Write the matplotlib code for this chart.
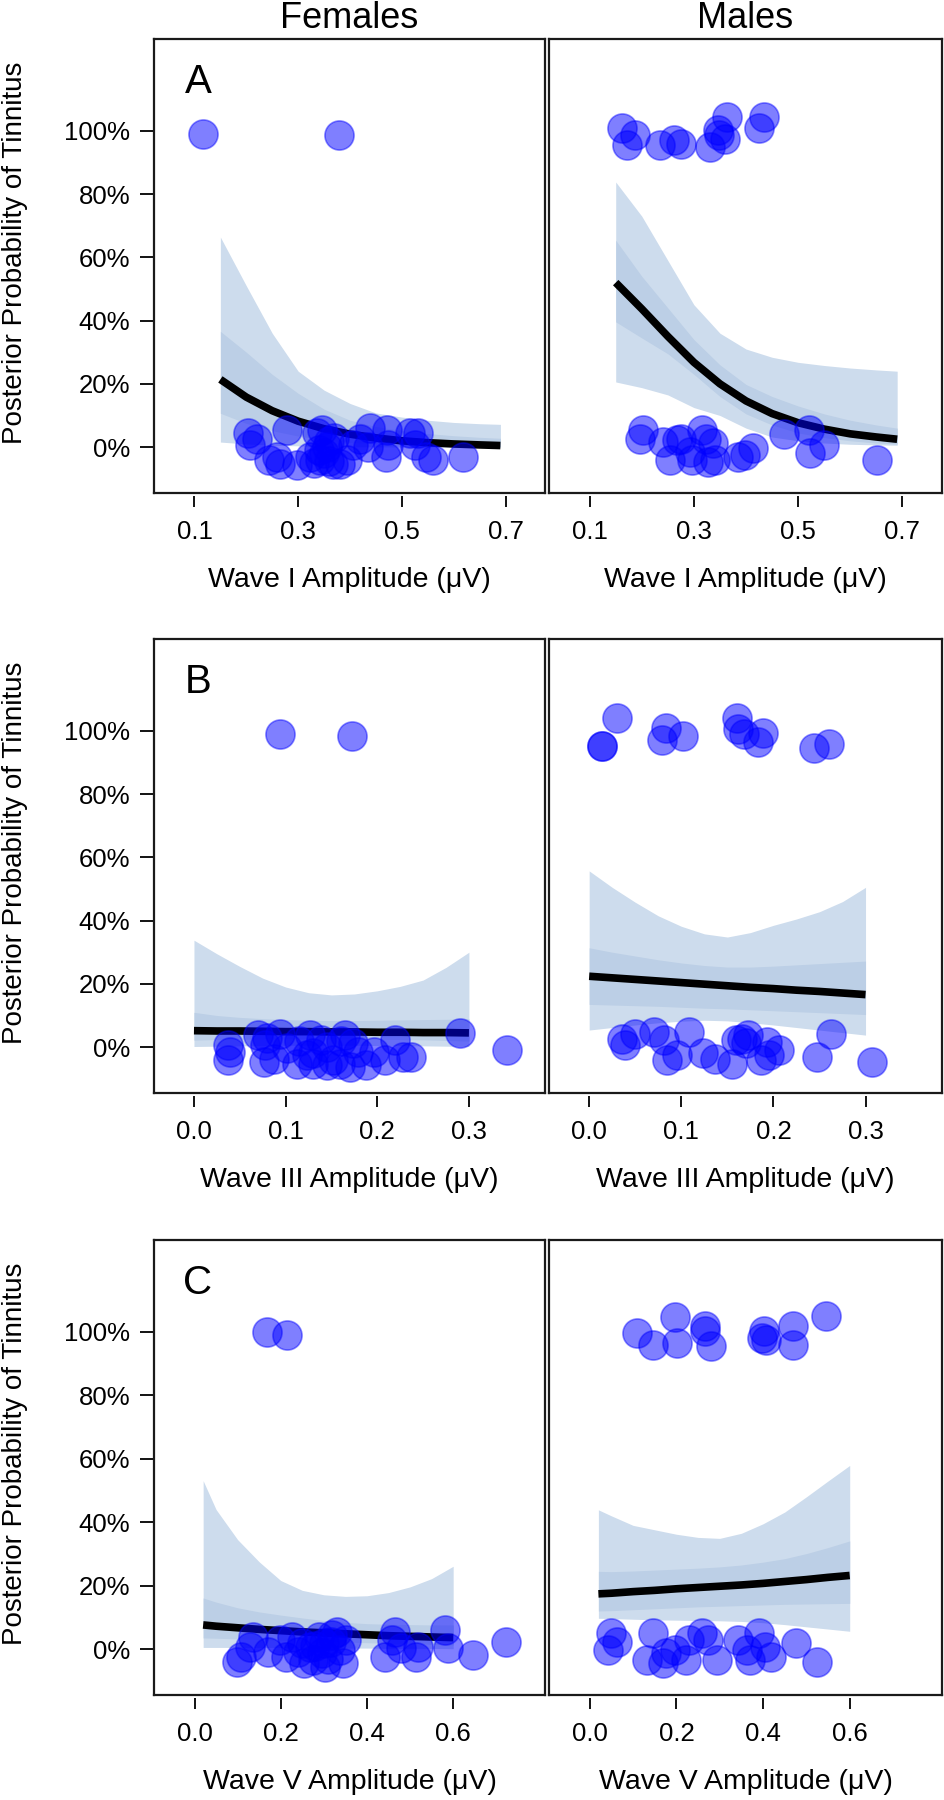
import matplotlib
matplotlib.use("Agg")
import matplotlib.pyplot as plt
import numpy as np

plt.rcParams['font.family'] = ['Liberation Sans', 'DejaVu Sans']

# ---------------- data ----------------
col_titles = ["Females", "Males"]
row_letters = ["A", "B", "C"]
xlabels = ["Wave I Amplitude (\u03bcV)", "Wave III Amplitude (\u03bcV)", "Wave V Amplitude (\u03bcV)"]
xticks_rows = [[0.1, 0.3, 0.5, 0.7], [0.0, 0.1, 0.2, 0.3], [0.0, 0.2, 0.4, 0.6]]
xticklabels_rows = [["0.1", "0.3", "0.5", "0.7"], ["0.0", "0.1", "0.2", "0.3"], ["0.0", "0.2", "0.4", "0.6"]]
yticks = [0.0, 0.2, 0.4, 0.6, 0.8, 1.0]
yticklabels = ["0%", "20%", "40%", "60%", "80%", "100%"]
ylabel = "Posterior Probability of Tinnitus"

# Panel A (Wave I)
gridA = [0.15, 0.2, 0.25, 0.3, 0.35, 0.4, 0.45, 0.5, 0.55, 0.6, 0.65, 0.69]
fA_outer_hi = [0.664, 0.51, 0.36, 0.24, 0.18, 0.138, 0.108, 0.095, 0.085, 0.078, 0.074, 0.072]
fA_inner_hi = [0.366, 0.30, 0.23, 0.17, 0.12, 0.085, 0.065, 0.052, 0.043, 0.036, 0.031, 0.028]
fA_line = [0.214, 0.158, 0.115, 0.082, 0.058, 0.041, 0.029, 0.020, 0.014, 0.010, 0.007, 0.005]
fA_inner_lo = [0.107, 0.075, 0.052, 0.035, 0.023, 0.015, 0.010, 0.006, 0.004, 0.003, 0.002, 0.001]
fA_outer_lo = [0.016, 0.010, 0.006, 0.004, 0.002, 0.001, 0.001, 0.0005, 0.0003, 0.0002, 0.0001, 0.0001]
fA_x = [0.117, 0.379, 0.204, 0.208, 0.221, 0.243, 0.259, 0.265, 0.278, 0.297, 0.323, 0.336, 0.346, 0.343,
        0.355, 0.368, 0.381, 0.394, 0.406, 0.419, 0.438, 0.435, 0.471, 0.469, 0.473, 0.515, 0.525, 0.531,
        0.547, 0.560, 0.618, 0.340, 0.350, 0.360, 0.330, 0.360, 0.370]
fA_y = [0.99, 0.986, 0.045, 0.006, 0.027, -0.041, -0.031, -0.052, 0.054, -0.057, -0.031, 0.045, 0.054, -0.041,
        0.001, -0.052, -0.052, -0.041, 0.006, 0.027, 0.059, 0.001, 0.054, -0.031, 0.006, 0.045, 0.006, 0.045,
        -0.031, -0.041, -0.031, -0.010, -0.020, 0.020, -0.050, -0.045, 0.030]

mA_outer_hi = [0.838, 0.73, 0.59, 0.45, 0.36, 0.31, 0.284, 0.268, 0.258, 0.25, 0.244, 0.24]
mA_inner_hi = [0.654, 0.54, 0.44, 0.34, 0.26, 0.198, 0.16, 0.13, 0.105, 0.085, 0.07, 0.06]
mA_line = [0.52, 0.437, 0.350, 0.268, 0.200, 0.146, 0.106, 0.077, 0.057, 0.042, 0.032, 0.025]
mA_inner_lo = [0.396, 0.345, 0.295, 0.23, 0.16, 0.105, 0.07, 0.045, 0.03, 0.02, 0.013, 0.01]
mA_outer_lo = [0.206, 0.188, 0.165, 0.125, 0.10, 0.06, 0.032, 0.02, 0.013, 0.009, 0.007, 0.006]
mA_x = [0.163, 0.172, 0.187, 0.235, 0.262, 0.276, 0.331, 0.347, 0.360, 0.363, 0.424, 0.435, 0.349,
        0.196, 0.203, 0.241, 0.254, 0.267, 0.276, 0.292, 0.296, 0.315, 0.324, 0.328, 0.337, 0.340,
        0.385, 0.398, 0.414, 0.472, 0.520, 0.523, 0.549, 0.651]
mA_y = [1.010, 0.954, 0.986, 0.954, 0.970, 0.957, 0.949, 1.002, 0.975, 1.044, 1.010, 1.044, 0.986,
        0.027, 0.054, 0.017, -0.041, 0.022, 0.027, -0.015, -0.041, 0.054, 0.027, -0.046, 0.012, -0.041,
        -0.031, -0.025, -0.004, 0.043, 0.054, -0.020, 0.006, -0.041]

# Panel B (Wave III)
gridB = [0.0, 0.025, 0.05, 0.075, 0.1, 0.125, 0.15, 0.175, 0.2, 0.225, 0.25, 0.275, 0.3]
fB_outer_hi = [0.338, 0.295, 0.255, 0.218, 0.19, 0.172, 0.165, 0.168, 0.178, 0.192, 0.212, 0.252, 0.30]
fB_inner_hi = [0.11, 0.10, 0.094, 0.09, 0.087, 0.085, 0.084, 0.084, 0.085, 0.086, 0.087, 0.088, 0.09]
fB_line = [0.052, 0.051, 0.051, 0.050, 0.049, 0.049, 0.048, 0.048, 0.047, 0.047, 0.046, 0.046, 0.045]
fB_inner_lo = [0.022, 0.024, 0.025, 0.026, 0.027, 0.027, 0.027, 0.026, 0.025, 0.024, 0.023, 0.021, 0.019]
fB_outer_lo = [0.002, 0.003, 0.004, 0.005, 0.006, 0.006, 0.006, 0.006, 0.005, 0.005, 0.004, 0.003, 0.002]
fB_x = [0.094, 0.172, 0.037, 0.037, 0.039, 0.070, 0.077, 0.076, 0.087, 0.094, 0.101, 0.112, 0.123, 0.127,
        0.130, 0.139, 0.145, 0.152, 0.159, 0.165, 0.170, 0.174, 0.179, 0.188, 0.196, 0.208, 0.219, 0.228,
        0.237, 0.290, 0.341, 0.080, 0.115, 0.145, 0.160, 0.130]
fB_y = [0.989, 0.983, 0.006, -0.041, -0.015, 0.038, 0.006, -0.046, -0.036, 0.043, -0.004, -0.052, -0.025, 0.038,
        -0.052, 0.022, -0.057, -0.041, -0.052, 0.038, -0.062, 0.012, -0.015, -0.057, -0.015, -0.041, 0.022, -0.031,
        -0.031, 0.045, -0.009, 0.030, 0.020, 0.000, 0.020, -0.020]

mB_outer_hi = [0.557, 0.505, 0.458, 0.415, 0.382, 0.358, 0.348, 0.362, 0.385, 0.405, 0.428, 0.46, 0.505]
mB_inner_hi = [0.314, 0.30, 0.288, 0.276, 0.266, 0.258, 0.253, 0.253, 0.256, 0.26, 0.264, 0.268, 0.272]
mB_line = [0.224, 0.219, 0.214, 0.209, 0.204, 0.199, 0.194, 0.189, 0.185, 0.18, 0.176, 0.171, 0.166]
mB_inner_lo = [0.135, 0.133, 0.131, 0.129, 0.126, 0.123, 0.121, 0.118, 0.115, 0.112, 0.109, 0.106, 0.103]
mB_outer_lo = [0.054, 0.062, 0.07, 0.077, 0.082, 0.085, 0.083, 0.077, 0.07, 0.062, 0.054, 0.046, 0.038]
mB_x = [0.030, 0.014, 0.014, 0.083, 0.079, 0.102, 0.161, 0.162, 0.168, 0.189, 0.183, 0.244, 0.260,
        0.036, 0.039, 0.050, 0.070, 0.081, 0.084, 0.095, 0.108, 0.124, 0.137, 0.155, 0.159, 0.166,
        0.170, 0.172, 0.186, 0.193, 0.195, 0.206, 0.247, 0.262, 0.307]
mB_y = [1.040, 0.951, 0.951, 1.009, 0.972, 0.983, 1.040, 1.007, 0.991, 0.993, 0.963, 0.947, 0.957,
        0.027, 0.006, 0.043, 0.048, 0.022, -0.041, -0.025, 0.048, -0.020, -0.036, -0.052, 0.022, 0.027,
        0.012, 0.038, -0.041, 0.017, -0.025, -0.009, -0.031, 0.043, -0.046]

# Panel C (Wave V)
gridC = [0.02, 0.05, 0.1, 0.15, 0.2, 0.25, 0.3, 0.35, 0.4, 0.45, 0.5, 0.55, 0.6]
fC_outer_hi = [0.531, 0.44, 0.345, 0.275, 0.216, 0.185, 0.171, 0.166, 0.168, 0.178, 0.196, 0.222, 0.261]
fC_inner_hi = [0.161, 0.148, 0.13, 0.117, 0.107, 0.098, 0.09, 0.084, 0.08, 0.078, 0.077, 0.076, 0.076]
fC_line = [0.076, 0.072, 0.067, 0.062, 0.058, 0.054, 0.051, 0.048, 0.045, 0.042, 0.040, 0.038, 0.036]
fC_inner_lo = [0.035, 0.034, 0.032, 0.030, 0.028, 0.026, 0.024, 0.022, 0.020, 0.018, 0.016, 0.015, 0.013]
fC_outer_lo = [0.005, 0.005, 0.005, 0.005, 0.005, 0.004, 0.004, 0.003, 0.003, 0.002, 0.002, 0.002, 0.001]
fC_x = [0.167, 0.214, 0.098, 0.107, 0.128, 0.135, 0.170, 0.198, 0.212, 0.226, 0.240, 0.254, 0.268, 0.275,
        0.289, 0.296, 0.303, 0.317, 0.331, 0.338, 0.345, 0.352, 0.443, 0.457, 0.464, 0.478, 0.513, 0.519,
        0.582, 0.589, 0.645, 0.722, 0.300, 0.310, 0.280, 0.320, 0.250]
fC_y = [0.999, 0.991, -0.040, -0.024, 0.007, 0.039, -0.008, 0.029, -0.024, 0.039, -0.008, -0.045, 0.007, -0.035,
        0.039, -0.014, -0.056, 0.023, 0.055, -0.003, -0.045, 0.029, -0.024, 0.029, 0.055, 0.002, -0.024, 0.007,
        0.060, 0.002, -0.019, 0.023, 0.020, -0.030, 0.010, 0.045, 0.020]

mC_outer_hi = [0.439, 0.42, 0.39, 0.376, 0.362, 0.352, 0.349, 0.365, 0.395, 0.432, 0.48, 0.53, 0.579]
mC_inner_hi = [0.245, 0.244, 0.246, 0.249, 0.252, 0.255, 0.259, 0.265, 0.274, 0.285, 0.301, 0.32, 0.341]
mC_line = [0.174, 0.176, 0.181, 0.185, 0.19, 0.194, 0.198, 0.202, 0.207, 0.213, 0.219, 0.226, 0.232]
mC_inner_lo = [0.12, 0.121, 0.124, 0.127, 0.13, 0.133, 0.135, 0.137, 0.139, 0.141, 0.142, 0.143, 0.144]
mC_outer_lo = [0.097, 0.096, 0.094, 0.092, 0.091, 0.09, 0.089, 0.087, 0.083, 0.077, 0.07, 0.063, 0.056]
mC_x = [0.108, 0.145, 0.197, 0.201, 0.267, 0.267, 0.280, 0.402, 0.406, 0.398, 0.468, 0.469, 0.545,
        0.042, 0.049, 0.063, 0.133, 0.147, 0.168, 0.175, 0.196, 0.223, 0.230, 0.258, 0.272, 0.293,
        0.342, 0.363, 0.370, 0.391, 0.405, 0.419, 0.475, 0.524]
mC_y = [0.997, 0.960, 1.047, 0.965, 1.020, 1.002, 0.957, 1.004, 0.976, 0.980, 1.018, 0.960, 1.050,
        -0.003, 0.050, 0.023, -0.035, 0.050, -0.045, -0.014, -0.003, -0.035, 0.029, 0.050, 0.029, -0.035,
        0.029, -0.003, -0.035, 0.050, 0.007, -0.024, 0.018, -0.040]

panels = [
    [(gridA, fA_outer_lo, fA_outer_hi, fA_inner_lo, fA_inner_hi, fA_line, fA_x, fA_y),
     (gridA, mA_outer_lo, mA_outer_hi, mA_inner_lo, mA_inner_hi, mA_line, mA_x, mA_y)],
    [(gridB, fB_outer_lo, fB_outer_hi, fB_inner_lo, fB_inner_hi, fB_line, fB_x, fB_y),
     (gridB, mB_outer_lo, mB_outer_hi, mB_inner_lo, mB_inner_hi, mB_line, mB_x, mB_y)],
    [(gridC, fC_outer_lo, fC_outer_hi, fC_inner_lo, fC_inner_hi, fC_line, fC_x, fC_y),
     (gridC, mC_outer_lo, mC_outer_hi, mC_inner_lo, mC_inner_hi, mC_line, mC_x, mC_y)],
]
xlims = [(0.022, 0.776), (-0.0436, 0.383), (-0.094, 0.813)]
ylim = (-0.145, 1.29)

# ---------------- layout ----------------
W, H = 944, 1800
fig = plt.figure(figsize=(W / 100, H / 100), dpi=100)
col_px = [(154, 545), (549, 942)]
row_px = [(39, 493), (639, 1093), (1240, 1695)]

outer_col = '#cddced'
inner_col = '#bccfe6'
box_col = '#1a1a1a'

for r in range(3):
    for c in range(2):
        x0, x1 = col_px[c]
        y0, y1 = row_px[r]
        ax = fig.add_axes([x0 / W, 1 - y1 / H, (x1 - x0) / W, (y1 - y0) / H])
        g, olo, ohi, ilo, ihi, ln, px, py = panels[r][c]
        ax.fill_between(g, olo, ohi, color=outer_col, lw=0, zorder=1)
        ax.fill_between(g, ilo, ihi, color=inner_col, lw=0, zorder=2)
        ax.plot(g, ln, color='black', lw=5.5, zorder=3, solid_capstyle='butt',
                solid_joinstyle='round')
        ax.scatter(px, py, s=440, facecolor=(0, 0, 1, 0.5), edgecolor=(0, 0, 1, 0.45),
                   linewidth=1.2, zorder=4, clip_on=False)
        ax.set_xlim(*xlims[r])
        ax.set_ylim(*ylim)

        for side in ['left', 'right', 'top']:
            ax.spines[side].set_linewidth(1.6)
            ax.spines[side].set_color(box_col)
        ax.spines['bottom'].set_position(('outward', 2.5))
        ax.spines['bottom'].set_visible(False)
        ax.plot([0, 1], [0, 0], transform=ax.transAxes, color=box_col, lw=1.6,
                clip_on=False, solid_capstyle='projecting', zorder=6)

        ax.set_xticks(xticks_rows[r])
        ax.set_xticklabels(xticklabels_rows[r])
        ax.tick_params(axis='x', direction='out', length=8, width=1.3, pad=9,
                       labelsize=18.5, colors='black')
        if c == 0:
            ax.set_yticks(yticks)
            ax.set_yticklabels(yticklabels)
            ax.tick_params(axis='y', direction='out', length=10, width=1.3, pad=7,
                           labelsize=18.5)
            ax.text((198 - x0) / (x1 - x0), 1 - 43 / (y1 - y0), row_letters[r],
                    transform=ax.transAxes, ha='center', va='center', fontsize=29)
            fig.text(15 / W, 1 - (y0 + 0.47 * (y1 - y0)) / H, ylabel, rotation=90,
                     ha='center', va='center', fontsize=20)
        else:
            ax.set_yticks([])
        ax.text(0.5, -87 / (y1 - y0), xlabels[r], transform=ax.transAxes,
                ha='center', va='center', fontsize=20.5)
        if r == 0:
            fig.text((x0 + x1) / 2 / W, 1 - 19 / H, col_titles[c], ha='center', va='center',
                     fontsize=26)

fig.savefig('out.png', dpi=100, facecolor='white')
